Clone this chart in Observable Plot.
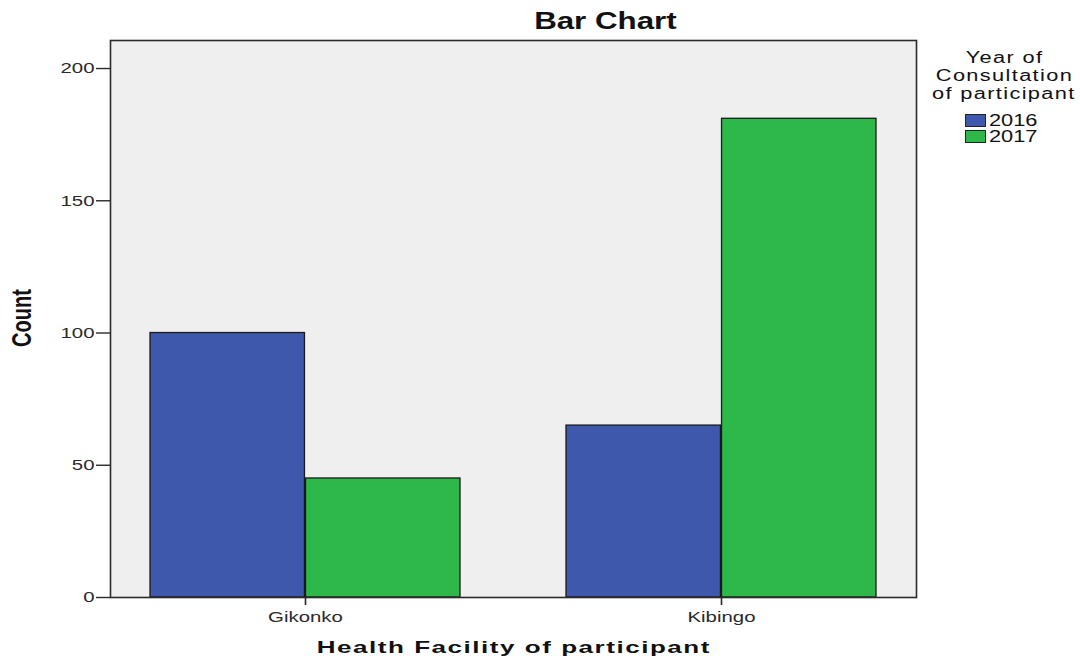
<!DOCTYPE html>
<html>
<head>
<meta charset="utf-8">
<script src="https://cdn.jsdelivr.net/npm/d3@7"></script>
<script src="https://cdn.jsdelivr.net/npm/@observablehq/plot@0.6"></script>
<style>
  html, body { margin: 0; padding: 0; background: #fff; }
  #wrap { position: relative; width: 1080px; height: 660px; font-family: "Liberation Sans", Arial, sans-serif; color: #111; }
  #chart { position: absolute; left: 0; top: 0; }
  .t { position: absolute; white-space: nowrap; display: inline-block; }
</style>
</head>
<body>
<div id="wrap">
  <div id="chart"></div>
</div>
<script>
const facilities = ["Gikonko", "Kibingo"];
const years = ["2016", "2017"];
const counts2016 = [100, 65];
const counts2017 = [45, 181];
const yearColors = ["#3e58ab", "#2eb84a"];
const yTicks = [0, 50, 100, 150, 200];
const chartTitle = "Bar Chart";
const xTitle = "Health Facility of participant";
const yTitle = "Count";
const legendTitle = ["Year of", "Consultation", "of participant"];

const data = [];
facilities.forEach((f, i) => {
  data.push({facility: f, year: years[0], count: counts2016[i]});
  data.push({facility: f, year: years[1], count: counts2017[i]});
});

const STRETCH = 1.36; // the reference is horizontally stretched
const width = 1080, height = 660;
const mL = 110, mR = 164, mT = 40, mB = 63;
const pInner = 0.254, pOuter = 0.0935;
const bandwidth = (width - mL - mR) / (facilities.length - pInner + 2 * pOuter) * (1 - pInner);
const half = bandwidth / 2;

const chart = Plot.plot({
  width, height,
  marginLeft: mL, marginRight: mR, marginTop: mT, marginBottom: mB,
  style: {fontFamily: "'Liberation Sans', Arial, sans-serif", fontSize: "15px", color: "#2a2a2a", background: "#fff"},
  x: {domain: facilities, paddingInner: pInner, paddingOuter: pOuter, label: null},
  y: {domain: [0, 210.6], label: null},
  color: {domain: years, range: yearColors},
  marks: [
    Plot.frame({fill: "#efefef", stroke: "none"}),
    Plot.barY(data.filter(d => d.year === years[0]), {x: "facility", y: "count", fill: "year", stroke: "#1a1a1a", strokeWidth: 1.3, insetRight: half}),
    Plot.barY(data.filter(d => d.year === years[1]), {x: "facility", y: "count", fill: "year", stroke: "#1a1a1a", strokeWidth: 1.3, insetLeft: half}),
    Plot.frame({stroke: "#2a2a2a", strokeWidth: 1.6}),
    Plot.axisY({ticks: yTicks, tickSize: 14, tickPadding: 2, tickFormat: d => d, fontSize: 15, stroke: "#2a2a2a", strokeWidth: 1.4, label: null}),
    Plot.axisX({tickSize: 8, tickPadding: 6, fontSize: 15, stroke: "#2a2a2a", strokeWidth: 1.6, label: null})
  ]
});
document.getElementById("chart").appendChild(chart);

// stretch tick labels horizontally like the reference
chart.querySelectorAll('g[aria-label$="tick label"] text').forEach(t => {
  const tr = t.getAttribute("transform");
  if (tr) t.setAttribute("transform", tr + ` scale(${STRETCH},1)`);
  else {
    const x = +t.getAttribute("x") || 0, y = +t.getAttribute("y") || 0;
    t.setAttribute("transform", `translate(${x},${y}) scale(${STRETCH},1) translate(${-x},${-y})`);
  }
});

const wrap = document.getElementById("wrap");
function addText(txt, opts) {
  const k = opts.stretch || STRETCH;
  const s = document.createElement("span");
  s.className = "t";
  s.textContent = txt;
  s.style.fontSize = opts.size + "px";
  s.style.lineHeight = opts.size + "px";
  if (opts.bold) s.style.fontWeight = "bold";
  if (opts.spacing) s.style.letterSpacing = opts.spacing + "px";
  wrap.appendChild(s);
  const w = s.offsetWidth, h = s.offsetHeight;
  if (opts.rotate) {
    s.style.left = (opts.cx - w / 2) + "px";
    s.style.top = (opts.cy - h / 2) + "px";
    s.style.transformOrigin = "50% 50%";
    s.style.transform = `rotate(-90deg) scaleY(${k})`;
  } else if (opts.anchor === "start") {
    s.style.left = opts.x + "px";
    s.style.top = (opts.cy - h / 2) + "px";
    s.style.transformOrigin = "0 50%";
    s.style.transform = `scaleX(${k})`;
  } else {
    s.style.left = (opts.cx - w / 2) + "px";
    s.style.top = (opts.cy - h / 2) + "px";
    s.style.transformOrigin = "50% 50%";
    s.style.transform = `scaleX(${k})`;
  }
  return s;
}

addText(chartTitle, {size: 23, bold: true, cx: 605, cy: 21});
addText(xTitle, {size: 17, bold: true, spacing: 1, stretch: 1.53, cx: 514, cy: 647});
addText(yTitle, {size: 20, bold: true, rotate: true, cx: 22, cy: 318});

legendTitle.forEach((t, i) => addText(t, {size: 16, spacing: 1, cx: 1004, cy: 58 + i * 18}));
years.forEach((y, i) => {
  const sw = document.createElement("div");
  sw.style.position = "absolute";
  sw.style.left = "965px";
  sw.style.top = (114 + i * 16) + "px";
  sw.style.width = "21px";
  sw.style.height = "13px";
  sw.style.boxSizing = "border-box";
  sw.style.border = "1px solid #222";
  sw.style.background = yearColors[i];
  wrap.appendChild(sw);
  addText(y, {size: 16, anchor: "start", x: 989, cy: 121 + i * 16});
});
</script>
</body>
</html>
